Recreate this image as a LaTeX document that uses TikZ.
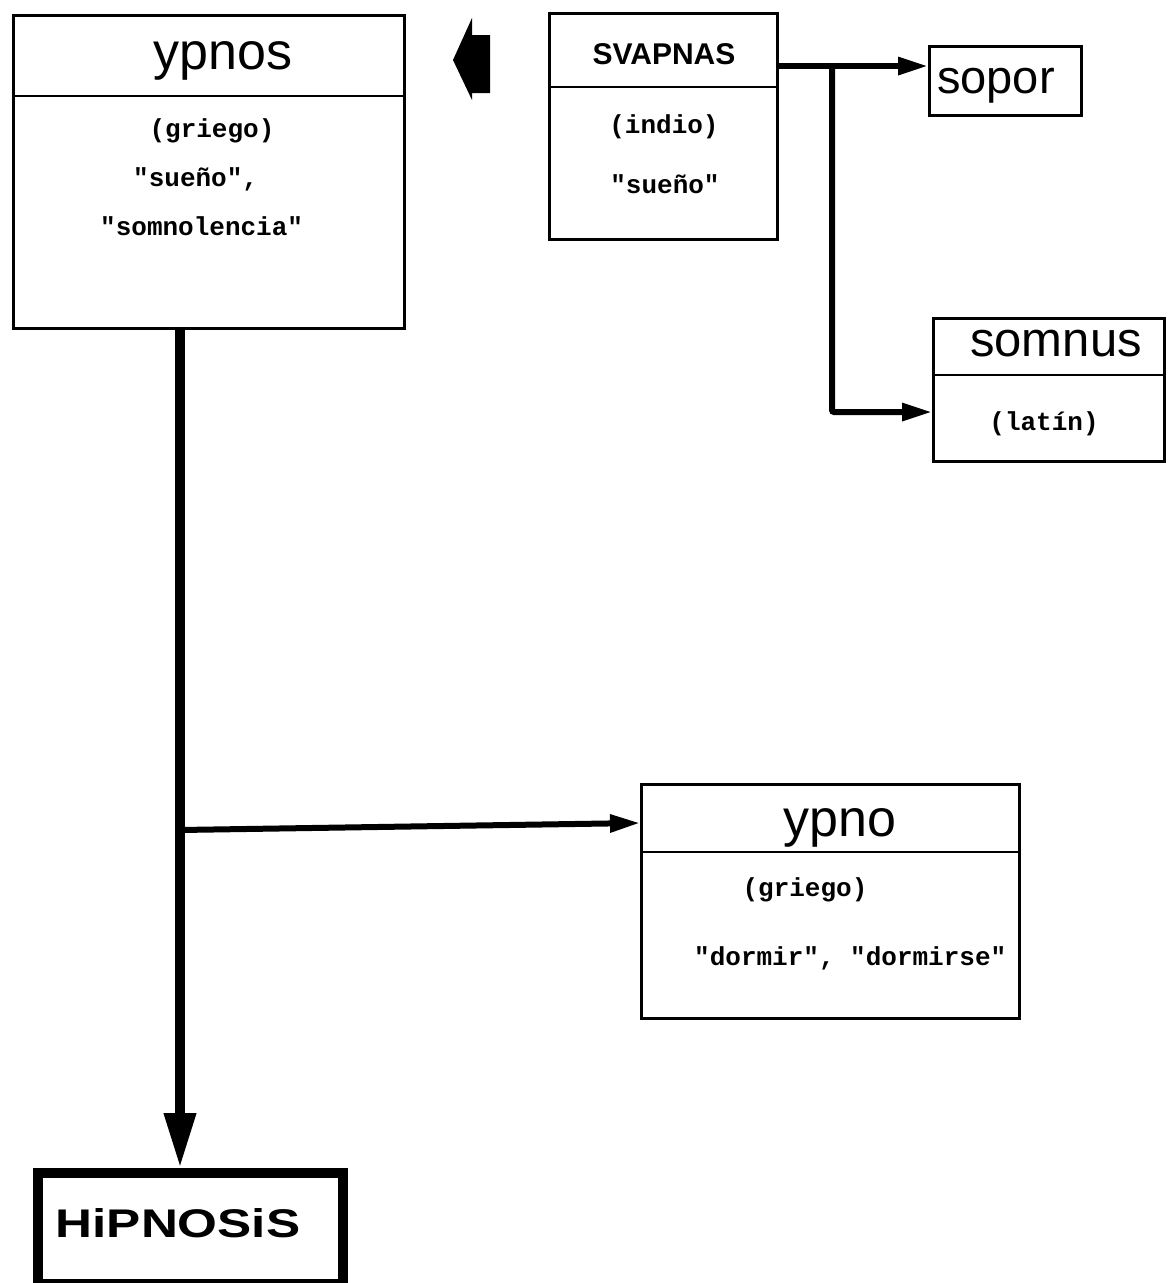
\documentclass[tikz,border=0pt]{standalone}
\usepackage{fontspec}
\usepackage{graphicx}
\newfontfamily\headfont{Liberation Sans}
\newfontfamily\typefont{Liberation Mono}
\usetikzlibrary{arrows.meta}
\begin{document}
\begin{tikzpicture}[x=1pt,y=-1pt,
  box/.style={draw, line width=3pt, anchor=north west, inner sep=0pt},
  head/.style={font=\headfont\fontsize{52}{52}\selectfont, inner sep=0pt},
  headbold/.style={font=\headfont\bfseries\fontsize{30}{30}\selectfont, inner sep=0pt},
  note/.style={font=\typefont\bfseries\fontsize{26}{26}\selectfont, inner sep=0pt},
  divider/.style={line width=2.5pt},
  link/.style={line width=6pt, -{Triangle[length=30pt,width=17pt]}},
  trunk/.style={line width=10pt, -{Triangle[length=55pt,width=30pt]}},
]
\useasboundingbox (0,0) rectangle (1168,1283);

% ---- ypnos ----
\node[box, minimum width=391pt, minimum height=313pt] (ypnos) at (12,14) {};
\draw[divider] (ypnos.west |- 0,96) -- (ypnos.east |- 0,96);
\node[head, anchor=base] (ypnosT) at (223,69) {ypnos};
\node[note, anchor=base] (ypnosA) at (212,137) {(griego)};
\node[note, anchor=base west] (ypnosB) at (133,186) {"sueño",};
\node[note, anchor=base west] (ypnosC) at (100,235) {"somnolencia"};

% ---- SVAPNAS ----
\node[box, minimum width=228pt, minimum height=226pt] (svap) at (548,12) {};
\draw[divider] (svap.west |- 0,87) -- (svap.east |- 0,87);
\node[headbold, anchor=base] (svapT) at (664,64) {SVAPNAS};
\node[note, anchor=base] (svapA) at (664,133) {(indio)};
\node[note, anchor=base] (svapB) at (665,193) {"sueño"};

% block arrow pointing back to ypnos
\fill (453,60) -- (472,18) -- (472,35) -- (490,35) -- (490,93) -- (472,93) -- (472,100) -- cycle;

% ---- sopor ----
\node[box, minimum width=152pt, minimum height=69pt] (sopor) at (928,45) {};
\node[head, font=\headfont\fontsize{47}{47}\selectfont, anchor=base west] (soporT) at (937,93) {sopor};

% ---- somnus ----
\node[box, minimum width=231pt, minimum height=143pt] (somnus) at (932,317) {};
\draw[divider] (somnus.west |- 0,375) -- (somnus.east |- 0,375);
\node[head, font=\headfont\fontsize{49}{49}\selectfont, anchor=base west] (somnusT) at (970,356) {somnus};
\node[note, anchor=base] (somnusA) at (1044,430) {(latín)};

% ---- ypno ----
\node[box, minimum width=378pt, minimum height=234pt] (ypno) at (640,783) {};
\draw[divider] (ypno.west |- 0,852) -- (ypno.east |- 0,852);
\node[head, anchor=base] (ypnoT) at (840,836) {ypno};
\node[note, anchor=base] (ypnoA) at (805,896) {(griego)};
\node[note, anchor=base west] (ypnoB) at (694,965) {"dormir", "dormirse"};

% ---- HIPNOSIS ----
\node[draw, line width=10pt, anchor=north west, inner sep=0pt,
      minimum width=305pt, minimum height=111pt] (hip) at (33,1168) {};
\node[font=\headfont\bfseries\fontsize{40}{40}\selectfont, inner sep=0pt, anchor=base]
      (hipT) at (178,1237) {\scalebox{1.28}[1]{HiPNOSiS}};

% ---- connectors ----
\coordinate (fork) at (180,830);
\coordinate (split) at (832,66);
\draw[trunk] (ypnos.south -| fork) -- (hip.north -| fork);
\draw[link] (fork) -- (ypno.west |- 0,823);
\draw[link] (svap.east |- split) -- (sopor.west |- split);
\draw[link, rounded corners=2pt] (split) |- (somnus.west |- 0,412);
\end{tikzpicture}
\end{document}
